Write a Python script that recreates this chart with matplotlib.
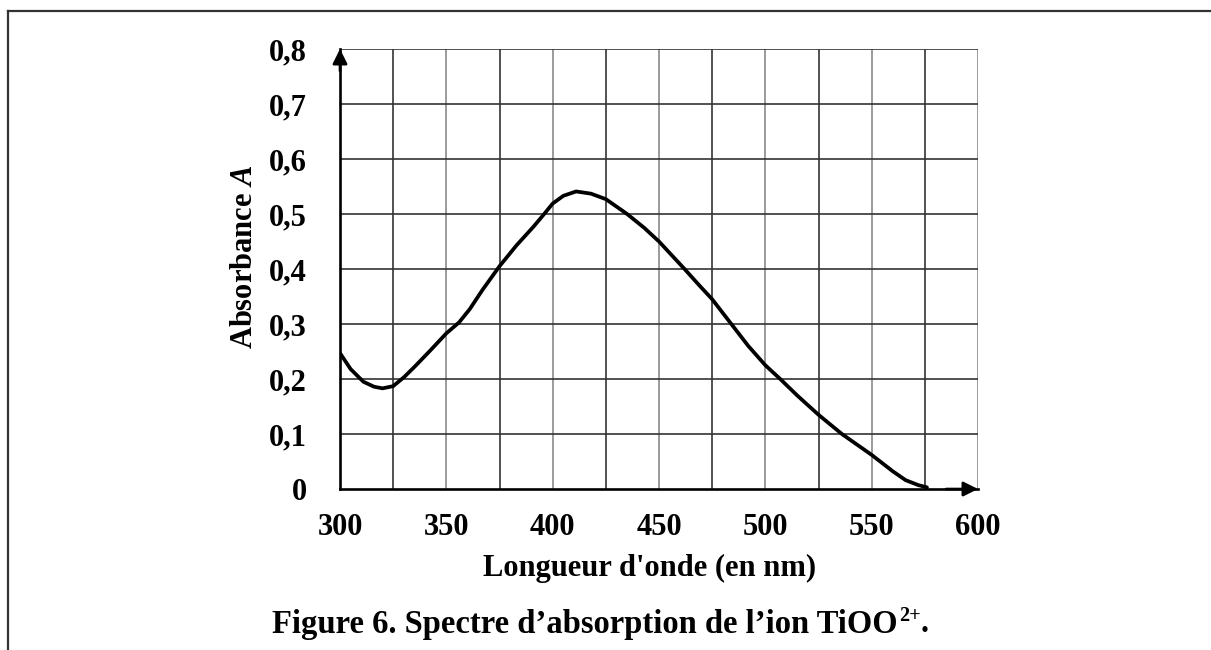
import matplotlib
matplotlib.use("Agg")
import matplotlib.pyplot as plt
from matplotlib.lines import Line2D

plt.rcParams['font.family'] = ['Liberation Serif', 'DejaVu Serif']
plt.rcParams['font.weight'] = 'bold'
plt.rcParams['mathtext.fontset'] = 'custom'
plt.rcParams['mathtext.rm'] = 'Liberation Serif:bold'
plt.rcParams['mathtext.bf'] = 'Liberation Serif:bold'
plt.rcParams['mathtext.it'] = 'Liberation Serif:italic:bold'

# Data
wavelength = [300, 305, 311, 316, 320, 325, 330, 335, 342, 350, 356, 361, 367,
              375, 383, 391, 396, 400, 405, 411, 418, 425, 435, 443, 450, 462,
              469, 475, 484, 492, 500, 507, 515, 525, 536, 550, 560, 566, 572, 576]
absorbance = [0.247, 0.218, 0.195, 0.186, 0.183, 0.187, 0.203, 0.222, 0.250, 0.283,
              0.303, 0.327, 0.362, 0.405, 0.443, 0.477, 0.500, 0.519, 0.533, 0.541,
              0.537, 0.527, 0.500, 0.475, 0.450, 0.400, 0.370, 0.345, 0.300, 0.260,
              0.225, 0.200, 0.170, 0.135, 0.100, 0.062, 0.032, 0.016, 0.007, 0.003]
x_ticks = [300, 350, 400, 450, 500, 550, 600]
y_ticks = [0, 0.1, 0.2, 0.3, 0.4, 0.5, 0.6, 0.7, 0.8]
y_tick_labels = ['0', '0,1', '0,2', '0,3', '0,4', '0,5', '0,6', '0,7', '0,8']
x_grid = [325, 350, 375, 400, 425, 450, 475, 500, 525, 550, 575, 600]
y_grid = [0.1, 0.2, 0.3, 0.4, 0.5, 0.6, 0.7, 0.8]

W, H = 1211, 650
fig = plt.figure(figsize=(W / 100, H / 100), dpi=100)
ax = fig.add_axes([340 / W, 1 - 489 / H, (978 - 340) / W, (489 - 49) / H])
ax.set_xlim(300, 600)
ax.set_ylim(0, 0.8)

for i, xg in enumerate(x_grid):
    col = '#333333' if i % 2 == 0 else '#8a8a8a'
    ax.axvline(xg, color=col, lw=1.2, zorder=1)
for yg in y_grid:
    ax.axhline(yg, color='#333333', lw=1.2, zorder=1)

ax.plot(wavelength, absorbance, color='black', lw=2.7, zorder=3,
        solid_capstyle='round', solid_joinstyle='round')

for s in ['top', 'right']:
    ax.spines[s].set_visible(False)
for s in ['left', 'bottom']:
    ax.spines[s].set_linewidth(1.9)
    ax.spines[s].set_color('black')
    ax.spines[s].set_zorder(4)

# axis arrows
ax.annotate('', xy=(1.0, 0), xytext=(0.95, 0), xycoords='axes fraction',
            arrowprops=dict(arrowstyle='-|>', color='black', lw=1.9,
                            mutation_scale=22, shrinkA=0, shrinkB=0), zorder=5)
ax.annotate('', xy=(0, 1.0), xytext=(0, 0.95), xycoords='axes fraction',
            arrowprops=dict(arrowstyle='-|>', color='black', lw=1.9,
                            mutation_scale=22, shrinkA=0, shrinkB=0), zorder=5)

ax.set_xticks(x_ticks)
ax.set_xticklabels([str(v) for v in x_ticks])
ax.set_yticks(y_ticks)
ax.set_yticklabels(y_tick_labels)
ax.tick_params(axis='both', length=0, labelsize=22)
ax.tick_params(axis='x', pad=17)
ax.tick_params(axis='y', pad=24)

fig.text(650 / W, 1 - 568 / H, "Longueur d'onde (en nm)", ha='center', va='center',
         fontsize=22, fontweight='bold')
fig.text(245 / W, 1 - 257 / H, r"Absorbance $\mathit{A}$", ha='center', va='center',
         rotation=90, fontsize=22, fontweight='bold')

# caption with superscript, composed from pieces
cap_main = "Figure 6. Spectre d\u2019absorption de l\u2019ion TiOO"
cap_sup = "2+"
cap_end = "."
fs = 23.5
yc = 1 - 624 / H
t1 = fig.text(0, yc, cap_main, ha='left', va='center', fontsize=fs, fontweight='bold')
t2 = fig.text(0, yc + 8 / H, cap_sup, ha='left', va='center', fontsize=fs * 0.62,
              fontweight='bold')
t3 = fig.text(0, yc, cap_end, ha='left', va='center', fontsize=fs, fontweight='bold')
fig.canvas.draw()
r = fig.canvas.get_renderer()
w1 = t1.get_window_extent(r).width
w2 = t2.get_window_extent(r).width
w3 = t3.get_window_extent(r).width
total = w1 + w2 + w3
x0 = 600 - total / 2
t1.set_x(x0 / W)
t2.set_x((x0 + w1 + 1) / W)
t3.set_x((x0 + w1 + w2 + 1) / W)

# page frame (top and left edges)
fig.add_artist(Line2D([8 / W, 1.0], [1 - 11 / H, 1 - 11 / H], color='#333333', lw=1.6,
                      transform=fig.transFigure))
fig.add_artist(Line2D([8 / W, 8 / W], [0, 1 - 11 / H], color='#333333', lw=1.6,
                      transform=fig.transFigure))

fig.savefig('out.png', dpi=100)
